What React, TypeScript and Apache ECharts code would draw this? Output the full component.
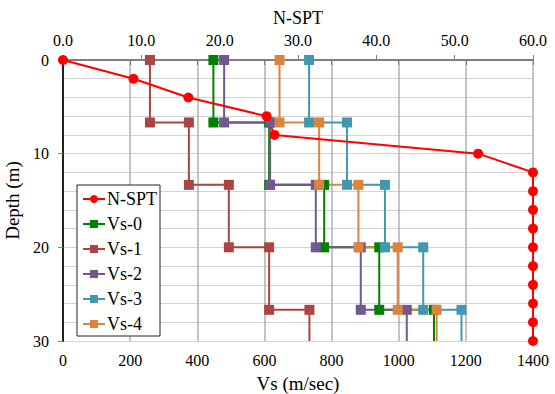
import React, { useEffect, useRef } from "react";
import * as echarts from "echarts";

const layerDepths = [0, 6.67, 13.33, 20, 26.67, 30];
const vs0 = [448, 614, 778, 942, 1105];
const vs1 = [259, 375, 494, 614, 734];
const vs2 = [480, 617, 753, 887, 1024];
const vs3 = [733, 846, 959, 1073, 1187];
const vs4 = [645, 763, 880, 997, 1113];
const sptDepths = [0, 2, 4, 6, 8, 10, 12, 14, 16, 18, 20, 22, 24, 26, 28, 30];
const sptValues = [0, 9, 16, 26, 27, 53, 60, 60, 60, 60, 60, 60, 60, 60, 60, 60];
const vsTicks = [0, 200, 400, 600, 800, 1000, 1200, 1400];
const sptTicks = [0, 10, 20, 30, 40, 50, 60];
const depthTicks = [0, 10, 20, 30];

const FONT = "Liberation Serif, serif";

function stepData(vals: number[]) {
  const out: any[] = [];
  for (let i = 0; i < vals.length; i++) {
    out.push({ value: [vals[i], layerDepths[i]] });
    const last = i === vals.length - 1;
    out.push(last ? { value: [vals[i], layerDepths[i + 1]], symbol: "none" } : { value: [vals[i], layerDepths[i + 1]] });
  }
  return out;
}

export default function App() {
  const ref = useRef<HTMLDivElement>(null);
  useEffect(() => {
    if (!ref.current) return;
    const chart = echarts.init(ref.current, undefined, { renderer: "svg" });
    const vsSeries = [
      { name: "Vs-0", data: vs0, color: "#008000" },
      { name: "Vs-1", data: vs1, color: "#A94643" },
      { name: "Vs-2", data: vs2, color: "#71588F" },
      { name: "Vs-3", data: vs3, color: "#4198AF" },
      { name: "Vs-4", data: vs4, color: "#DB843D" },
    ].map((s) => ({
      name: s.name,
      type: "line",
      xAxisIndex: 0,
      yAxisIndex: 0,
      data: stepData(s.data),
      symbol: "rect",
      symbolSize: 10,
      clip: false,
      itemStyle: { color: s.color },
      lineStyle: { color: s.color, width: 2 },
    }));
    chart.setOption({
      animation: false,
      textStyle: { fontFamily: FONT },
      grid: { left: 63, right: 22, top: 60, bottom: 53, containLabel: false, outerBoundsMode: "none" },
      legend: {
        orient: "vertical",
        left: 77,
        top: 185,
        padding: [5, 3, 3, 5],
        itemGap: 7,
        itemWidth: 22,
        itemHeight: 10,
        borderColor: "#222",
        borderWidth: 1,
        borderRadius: 0,
        backgroundColor: "#fff",
        textStyle: { fontFamily: FONT, fontSize: 18, lineHeight: 18, color: "#000", padding: [0, 0, 0, -3] },
        data: ["N-SPT", "Vs-0", "Vs-1", "Vs-2", "Vs-3", "Vs-4"],
      },
      xAxis: [
        {
          type: "value",
          position: "bottom",
          min: vsTicks[0],
          max: vsTicks[vsTicks.length - 1],
          interval: 200,
          name: "Vs (m/sec)",
          nameLocation: "middle",
          nameGap: 33,
          nameTextStyle: { fontFamily: FONT, fontSize: 19, color: "#000" },
          axisLine: { show: true, lineStyle: { color: "#7f7f7f", width: 2 } },
          axisTick: { show: true, inside: false, length: 5, lineStyle: { color: "#7f7f7f" } },
          axisLabel: { fontFamily: FONT, fontSize: 16, color: "#000", margin: 11, formatter: (v: number) => String(v) },
          splitLine: { show: true, lineStyle: { color: "#b0b0b0", width: 1.5 } },
        },
        {
          type: "value",
          position: "top",
          min: sptTicks[0],
          max: sptTicks[sptTicks.length - 1],
          interval: 10,
          name: "N-SPT",
          nameLocation: "middle",
          nameGap: 33,
          nameTextStyle: { fontFamily: FONT, fontSize: 18, color: "#000" },
          axisLine: { show: true, lineStyle: { color: "#7f7f7f", width: 2 } },
          axisTick: { show: true, inside: false, length: 5, lineStyle: { color: "#7f7f7f" } },
          axisLabel: { fontFamily: FONT, fontSize: 16, color: "#000", margin: 12, formatter: (v: number) => v.toFixed(1) },
          splitLine: { show: false },
        },
      ],
      yAxis: [
        {
          type: "value",
          inverse: true,
          min: depthTicks[0],
          max: depthTicks[depthTicks.length - 1],
          interval: 10,
          name: "Depth (m)",
          nameLocation: "middle",
          nameGap: 32,
          nameTextStyle: { fontFamily: FONT, fontSize: 19, color: "#000" },
          axisLine: { show: true, lineStyle: { color: "#7f7f7f", width: 2 } },
          axisTick: { show: true, inside: false, length: 5, lineStyle: { color: "#7f7f7f" } },
          axisLabel: { fontFamily: FONT, fontSize: 16, color: "#000", margin: 14, formatter: (v: number) => String(v) },
          splitLine: { show: true, lineStyle: { color: "#d4d4d4", width: 1 } },
          minorTick: { show: false, splitNumber: 5 },
          minorSplitLine: { show: true, lineStyle: { color: "#d4d4d4", width: 1 } },
        },
        {
          type: "value",
          position: "right",
          inverse: true,
          min: depthTicks[0],
          max: depthTicks[depthTicks.length - 1],
          interval: 10,
          axisLine: { show: true, lineStyle: { color: "#222", width: 2 } },
          axisTick: { show: false },
          axisLabel: { show: false },
          splitLine: { show: false },
        },
      ],
      series: [
        ...vsSeries,
        {
          name: "N-SPT",
          type: "line",
          xAxisIndex: 1,
          yAxisIndex: 0,
          data: sptValues.map((v, i) => [v, sptDepths[i]]),
          symbol: "circle",
          symbolSize: 10,
          clip: false,
          itemStyle: { color: "#ff0000" },
          lineStyle: { color: "#ff0000", width: 2 },
          z: 3,
        },
      ],
    });
    return () => chart.dispose();
  }, []);
  return <div ref={ref} style={{ width: 555, height: 394, position: "absolute", left: 0, top: 0 }} />;
}
